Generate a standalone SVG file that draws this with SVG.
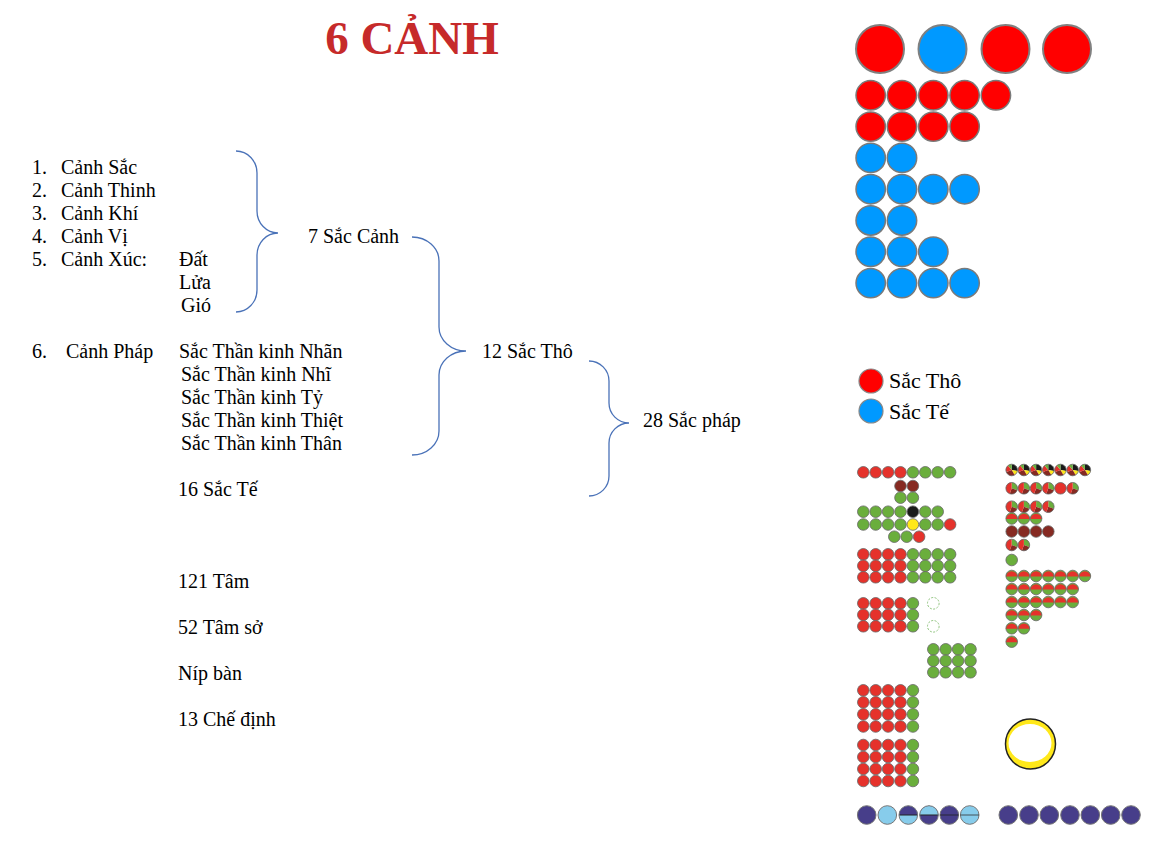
<svg xmlns="http://www.w3.org/2000/svg" xmlns:xlink="http://www.w3.org/1999/xlink" width="1165" height="846" viewBox="0 0 1165 846">
<style>
text{font-family:"Liberation Serif","Times New Roman",serif;font-size:20px;fill:#000}
.title{font-size:47px;font-weight:bold;fill:#C62A2A}
.leg{font-size:22px}
.brace{fill:none;stroke:#4A72B8;stroke-width:1.3}
.big{stroke:#808080;stroke-width:2}
.sm{stroke:#7a7a7a;stroke-width:1.5}
.c{stroke:#666;stroke-width:0.8}
.nv{stroke:#777;stroke-width:1}
</style>
<defs>
<circle id="R" r="24" fill="#FF0000" class="big"/>
<circle id="B" r="24" fill="#0099FF" class="big"/>
<circle id="rs" r="14.7" fill="#FF0000" class="sm"/>
<circle id="bs" r="14.7" fill="#0099FF" class="sm"/>
<circle id="r" r="5.8" fill="#E5322B" class="c"/>
<circle id="g" r="5.8" fill="#6AAE3C" class="c"/>
<circle id="d" r="5.8" fill="#862A22" class="c"/>
<circle id="k" r="5.8" fill="#1A1A1A" class="c"/>
<circle id="y" r="5.8" fill="#FFE81A" class="c"/>
<circle id="dash" r="5.8" fill="#fff" stroke="#8CC27A" stroke-width="1" stroke-dasharray="2,1.5"/>
<g id="pa">
<path d="M0,0 L0,-5.8 A5.8,5.8 0 0 1 5.71,1.01 Z" fill="#1A1A1A"/>
<path d="M0,0 L5.71,1.01 A5.8,5.8 0 0 1 2.9,5.02 Z" fill="#FFE81A"/>
<path d="M0,0 L2.9,5.02 A5.8,5.8 0 0 1 -5.45,1.98 Z" fill="#862A22"/>
<path d="M0,0 L-5.45,1.98 A5.8,5.8 0 0 1 -3.73,-4.44 Z" fill="#E5322B"/>
<path d="M0,0 L-3.73,-4.44 A5.8,5.8 0 0 1 0,-5.8 Z" fill="#6AAE3C"/>
<circle r="5.8" fill="none" class="c"/>
</g>
<g id="pb">
<path d="M0,0 L0,-5.8 A5.8,5.8 0 0 1 5.45,1.98 Z" fill="#6AAE3C"/>
<path d="M0,0 L5.45,1.98 A5.8,5.8 0 0 1 -1.98,5.45 Z" fill="#862A22"/>
<path d="M0,0 L-1.98,5.45 A5.8,5.8 0 0 1 0,-5.8 Z" fill="#E5322B"/>
<circle r="5.8" fill="none" class="c"/>
</g>
<g id="h">
<circle r="5.8" fill="#6AAE3C"/>
<path d="M-5.78,0.5 A5.8,5.8 0 0 1 5.78,0.5 Z" fill="#E5322B"/>
<circle r="5.8" fill="none" class="c"/>
</g>
<circle id="N" r="9.3" fill="#473E8A" class="nv"/>
<circle id="L" r="9.3" fill="#87CCEB" class="nv"/>
<g id="NL">
<circle r="9.3" fill="#87CCEB"/>
<path d="M-9.3,0 A9.3,9.3 0 0 1 9.3,0 Z" fill="#473E8A"/>
<line x1="-9.3" y1="0" x2="9.3" y2="0" stroke="#222" stroke-width="1"/>
<circle r="9.3" fill="none" class="nv"/>
</g>
<g id="LN">
<circle r="9.3" fill="#473E8A"/>
<path d="M-9.3,0 A9.3,9.3 0 0 1 9.3,0 Z" fill="#87CCEB"/>
<line x1="-9.3" y1="0" x2="9.3" y2="0" stroke="#222" stroke-width="1"/>
<circle r="9.3" fill="none" class="nv"/>
</g>
<g id="Nl">
<circle r="9.3" fill="#473E8A" class="nv"/>
<line x1="-9.3" y1="0" x2="9.3" y2="0" stroke="#222" stroke-width="0.8"/>
</g>
<g id="Ll">
<circle r="9.3" fill="#87CCEB" class="nv"/>
<line x1="-9.3" y1="0" x2="9.3" y2="0" stroke="#333" stroke-width="0.8"/>
</g>
</defs>
<rect width="1165" height="846" fill="#fff"/>

<g id="title"><text class="title" x="412" y="54" text-anchor="middle">6 CẢNH</text></g>

<g id="list">
<g id="item1"><text x="32" y="174">1.</text><text x="61" y="174">Cảnh Sắc</text></g>
<g id="item2"><text x="32" y="197">2.</text><text x="61" y="197">Cảnh Thinh</text></g>
<g id="item3"><text x="32" y="220">3.</text><text x="61" y="220">Cảnh Khí</text></g>
<g id="item4"><text x="32" y="243">4.</text><text x="61" y="243">Cảnh Vị</text></g>
<g id="item5"><text x="32" y="266">5.</text><text x="61" y="266">Cảnh Xúc:</text><text x="179" y="266">Đất</text><text x="179" y="289">Lửa</text><text x="181" y="312">Gió</text></g>
<g id="item6"><text x="32" y="358">6.</text><text x="66" y="358">Cảnh Pháp</text>
<text x="179" y="358">Sắc Thần kinh Nhãn</text>
<text x="181" y="381">Sắc Thần kinh Nhĩ</text>
<text x="181" y="404">Sắc Thần kinh Tỷ</text>
<text x="181" y="427">Sắc Thần kinh Thiệt</text>
<text x="181" y="450">Sắc Thần kinh Thân</text></g>
</g>
<g id="sac-canh"><text x="308" y="243">7 Sắc Cảnh</text></g>
<g id="sac-tho"><text x="482" y="358">12 Sắc Thô</text></g>
<g id="sac-phap"><text x="643" y="427">28 Sắc pháp</text></g>
<g id="sac-te"><text x="178" y="496">16 Sắc Tế</text></g>
<g id="tam"><text x="178" y="588">121 Tâm</text></g>
<g id="tam-so"><text x="178" y="634">52 Tâm sở</text></g>
<g id="nip-ban"><text x="178" y="680">Níp bàn</text></g>
<g id="che-dinh"><text x="178" y="726">13 Chế định</text></g>

<g id="connectors">
<path class="brace" d="M236,151 A21,22 0 0 1 257,173 L257,211 A21,22 0 0 0 278,233 A21,22 0 0 0 257,255 L257,290 A21,22 0 0 1 236,312"/>
<path class="brace" d="M412,237 A27,24 0 0 1 439,261 L439,327 A27,24 0 0 0 466,351 A27,24 0 0 0 439,375 L439,431 A27,24 0 0 1 412,455"/>
<path class="brace" d="M589,361 A20,20 0 0 1 609,381 L609,403 A20,20 0 0 0 629,423 A20,20 0 0 0 609,443 L609,476 A20,20 0 0 1 589,496"/>
</g>

<g id="top-circles">
<use href="#R" x="880" y="49"/><use href="#B" x="942.5" y="49"/><use href="#R" x="1005.5" y="49"/><use href="#R" x="1067" y="49"/>
<use href="#rs" x="870.7" y="95.3"/><use href="#rs" x="902" y="95.3"/><use href="#rs" x="933.3" y="95.3"/><use href="#rs" x="964.6" y="95.3"/><use href="#rs" x="995.9" y="95.3"/>
<use href="#rs" x="870.7" y="126.6"/><use href="#rs" x="902" y="126.6"/><use href="#rs" x="933.3" y="126.6"/><use href="#rs" x="964.6" y="126.6"/>
<use href="#bs" x="870.7" y="157.9"/><use href="#bs" x="902" y="157.9"/>
<use href="#bs" x="870.7" y="189.2"/><use href="#bs" x="902" y="189.2"/><use href="#bs" x="933.3" y="189.2"/><use href="#bs" x="964.6" y="189.2"/>
<use href="#bs" x="870.7" y="220.5"/><use href="#bs" x="902" y="220.5"/>
<use href="#bs" x="870.7" y="251.8"/><use href="#bs" x="902" y="251.8"/><use href="#bs" x="933.3" y="251.8"/>
<use href="#bs" x="870.7" y="283.1"/><use href="#bs" x="902" y="283.1"/><use href="#bs" x="933.3" y="283.1"/><use href="#bs" x="964.6" y="283.1"/>
</g>

<g id="legend">
<circle cx="871" cy="381" r="12" fill="#FF0000" stroke="#888" stroke-width="1.2"/>
<text class="leg" x="889" y="388">Sắc Thô</text>
<circle cx="871" cy="411" r="12" fill="#0099FF" stroke="#888" stroke-width="1.2"/>
<text class="leg" x="889" y="419">Sắc Tế</text>
</g>

<g id="cluster-left">
<use href="#r" x="863.3" y="472.3"/><use href="#r" x="875.7" y="472.3"/><use href="#r" x="888.1" y="472.3"/><use href="#r" x="900.5" y="472.3"/><use href="#g" x="912.9" y="472.3"/><use href="#g" x="925.3" y="472.3"/><use href="#g" x="937.7" y="472.3"/><use href="#g" x="950.1" y="472.3"/>
<use href="#d" x="900.5" y="486"/><use href="#d" x="912.9" y="486"/>
<use href="#g" x="900.5" y="497.7"/><use href="#g" x="912.9" y="497.7"/>
<use href="#g" x="863.3" y="511.7"/><use href="#g" x="875.7" y="511.7"/><use href="#g" x="888.1" y="511.7"/><use href="#g" x="900.5" y="511.7"/><use href="#k" x="912.9" y="511.7"/><use href="#g" x="925.3" y="511.7"/><use href="#g" x="937.7" y="511.7"/>
<use href="#g" x="863.3" y="524.5"/><use href="#g" x="875.7" y="524.5"/><use href="#g" x="888.1" y="524.5"/><use href="#g" x="900.5" y="524.5"/><use href="#y" x="912.9" y="524.5"/><use href="#g" x="925.3" y="524.5"/><use href="#g" x="937.7" y="524.5"/><use href="#r" x="950.1" y="524.5"/>
<use href="#g" x="894.3" y="536.7"/><use href="#g" x="906.7" y="536.7"/><use href="#r" x="919.1" y="536.7"/>
</g>
<g id="block-g">
<use href="#r" x="863.3" y="554.3"/><use href="#r" x="875.7" y="554.3"/><use href="#r" x="888.1" y="554.3"/><use href="#r" x="900.5" y="554.3"/><use href="#g" x="912.9" y="554.3"/><use href="#g" x="925.3" y="554.3"/><use href="#g" x="937.7" y="554.3"/><use href="#g" x="950.1" y="554.3"/>
<use href="#r" x="863.3" y="565.8"/><use href="#r" x="875.7" y="565.8"/><use href="#r" x="888.1" y="565.8"/><use href="#r" x="900.5" y="565.8"/><use href="#g" x="912.9" y="565.8"/><use href="#g" x="925.3" y="565.8"/><use href="#g" x="937.7" y="565.8"/><use href="#g" x="950.1" y="565.8"/>
<use href="#r" x="863.3" y="577.3"/><use href="#r" x="875.7" y="577.3"/><use href="#r" x="888.1" y="577.3"/><use href="#r" x="900.5" y="577.3"/><use href="#g" x="912.9" y="577.3"/><use href="#g" x="925.3" y="577.3"/><use href="#g" x="937.7" y="577.3"/><use href="#g" x="950.1" y="577.3"/>
</g>
<g id="block-h">
<use href="#r" x="863.3" y="603.3"/><use href="#r" x="875.7" y="603.3"/><use href="#r" x="888.1" y="603.3"/><use href="#r" x="900.5" y="603.3"/><use href="#g" x="912.9" y="603.3"/>
<use href="#r" x="863.3" y="614.8"/><use href="#r" x="875.7" y="614.8"/><use href="#r" x="888.1" y="614.8"/><use href="#r" x="900.5" y="614.8"/><use href="#g" x="912.9" y="614.8"/>
<use href="#r" x="863.3" y="626.3"/><use href="#r" x="875.7" y="626.3"/><use href="#r" x="888.1" y="626.3"/><use href="#r" x="900.5" y="626.3"/><use href="#g" x="912.9" y="626.3"/>
<use href="#dash" x="933.3" y="603.3"/><use href="#dash" x="933.3" y="626.3"/>
</g>
<g id="block-i">
<use href="#g" x="933.3" y="649.3"/><use href="#g" x="945.7" y="649.3"/><use href="#g" x="958.1" y="649.3"/><use href="#g" x="970.5" y="649.3"/>
<use href="#g" x="933.3" y="660.8"/><use href="#g" x="945.7" y="660.8"/><use href="#g" x="958.1" y="660.8"/><use href="#g" x="970.5" y="660.8"/>
<use href="#g" x="933.3" y="672.3"/><use href="#g" x="945.7" y="672.3"/><use href="#g" x="958.1" y="672.3"/><use href="#g" x="970.5" y="672.3"/>
</g>
<g id="block-j">
<use href="#r" x="863.3" y="690.3"/><use href="#r" x="875.7" y="690.3"/><use href="#r" x="888.1" y="690.3"/><use href="#r" x="900.5" y="690.3"/><use href="#g" x="912.9" y="690.3"/>
<use href="#r" x="863.3" y="702.3"/><use href="#r" x="875.7" y="702.3"/><use href="#r" x="888.1" y="702.3"/><use href="#r" x="900.5" y="702.3"/><use href="#g" x="912.9" y="702.3"/>
<use href="#r" x="863.3" y="714.3"/><use href="#r" x="875.7" y="714.3"/><use href="#r" x="888.1" y="714.3"/><use href="#r" x="900.5" y="714.3"/><use href="#g" x="912.9" y="714.3"/>
<use href="#r" x="863.3" y="726.5"/><use href="#r" x="875.7" y="726.5"/><use href="#r" x="888.1" y="726.5"/><use href="#r" x="900.5" y="726.5"/><use href="#g" x="912.9" y="726.5"/>
</g>
<g id="block-k">
<use href="#r" x="863.3" y="745"/><use href="#r" x="875.7" y="745"/><use href="#r" x="888.1" y="745"/><use href="#r" x="900.5" y="745"/><use href="#g" x="912.9" y="745"/>
<use href="#r" x="863.3" y="757"/><use href="#r" x="875.7" y="757"/><use href="#r" x="888.1" y="757"/><use href="#r" x="900.5" y="757"/><use href="#g" x="912.9" y="757"/>
<use href="#r" x="863.3" y="769"/><use href="#r" x="875.7" y="769"/><use href="#r" x="888.1" y="769"/><use href="#r" x="900.5" y="769"/><use href="#g" x="912.9" y="769"/>
<use href="#r" x="863.3" y="781"/><use href="#r" x="875.7" y="781"/><use href="#r" x="888.1" y="781"/><use href="#r" x="900.5" y="781"/><use href="#g" x="912.9" y="781"/>
</g>

<g id="cluster-right">
<use href="#pa" x="1011.7" y="470"/><use href="#pa" x="1023.9" y="470"/><use href="#pa" x="1036.1" y="470"/><use href="#pa" x="1048.3" y="470"/><use href="#pa" x="1060.5" y="470"/><use href="#pa" x="1072.7" y="470"/><use href="#pa" x="1084.9" y="470"/>
<use href="#pb" x="1011.7" y="488.3"/><use href="#pb" x="1023.9" y="488.3"/><use href="#pb" x="1036.1" y="488.3"/><use href="#pb" x="1048.3" y="488.3"/><use href="#r" x="1060.5" y="488.3"/><use href="#pb" x="1072.7" y="488.3"/>
<use href="#pb" x="1011.7" y="506.7"/><use href="#pb" x="1023.9" y="506.7"/><use href="#pb" x="1036.1" y="506.7"/><use href="#pb" x="1048.3" y="506.7"/>
<use href="#h" x="1011.7" y="518.5"/><use href="#h" x="1023.9" y="518.5"/><use href="#h" x="1036.1" y="518.5"/>
<use href="#d" x="1011.7" y="531.5"/><use href="#d" x="1023.9" y="531.5"/><use href="#d" x="1036.1" y="531.5"/><use href="#d" x="1048.3" y="531.5"/>
<use href="#pb" x="1011.7" y="545"/><use href="#pb" x="1023.9" y="545"/>
<use href="#g" x="1011.7" y="560"/>
<use href="#h" x="1011.7" y="576"/><use href="#h" x="1023.9" y="576"/><use href="#h" x="1036.1" y="576"/><use href="#h" x="1048.3" y="576"/><use href="#h" x="1060.5" y="576"/><use href="#h" x="1072.7" y="576"/><use href="#h" x="1084.9" y="576"/>
<use href="#h" x="1011.7" y="589"/><use href="#h" x="1023.9" y="589"/><use href="#h" x="1036.1" y="589"/><use href="#h" x="1048.3" y="589"/><use href="#h" x="1060.5" y="589"/><use href="#h" x="1072.7" y="589"/>
<use href="#h" x="1011.7" y="602"/><use href="#h" x="1023.9" y="602"/><use href="#h" x="1036.1" y="602"/><use href="#h" x="1048.3" y="602"/><use href="#h" x="1060.5" y="602"/><use href="#h" x="1072.7" y="602"/>
<use href="#h" x="1011.7" y="615"/><use href="#h" x="1023.9" y="615"/><use href="#h" x="1036.1" y="615"/>
<use href="#h" x="1011.7" y="628.3"/><use href="#h" x="1023.9" y="628.3"/>
<use href="#h" x="1011.7" y="641.7"/>
</g>

<g id="ring">
<circle cx="1030.5" cy="744" r="25" fill="#FFE81A" stroke="#222" stroke-width="1.5"/>
<ellipse cx="1030" cy="743" rx="21.5" ry="19" fill="#fff"/>
</g>

<g id="bottom-row">
<use href="#N" x="866.7" y="815"/><use href="#L" x="887.3" y="815"/><use href="#NL" x="908.3" y="815"/><use href="#LN" x="929" y="815"/><use href="#Nl" x="949.3" y="815"/><use href="#Ll" x="969.7" y="815"/>
<use href="#N" x="1008.3" y="815"/><use href="#N" x="1029" y="815"/><use href="#N" x="1049.3" y="815"/><use href="#N" x="1070" y="815"/><use href="#N" x="1090.3" y="815"/><use href="#N" x="1110.7" y="815"/><use href="#N" x="1131" y="815"/>
</g>
</svg>
